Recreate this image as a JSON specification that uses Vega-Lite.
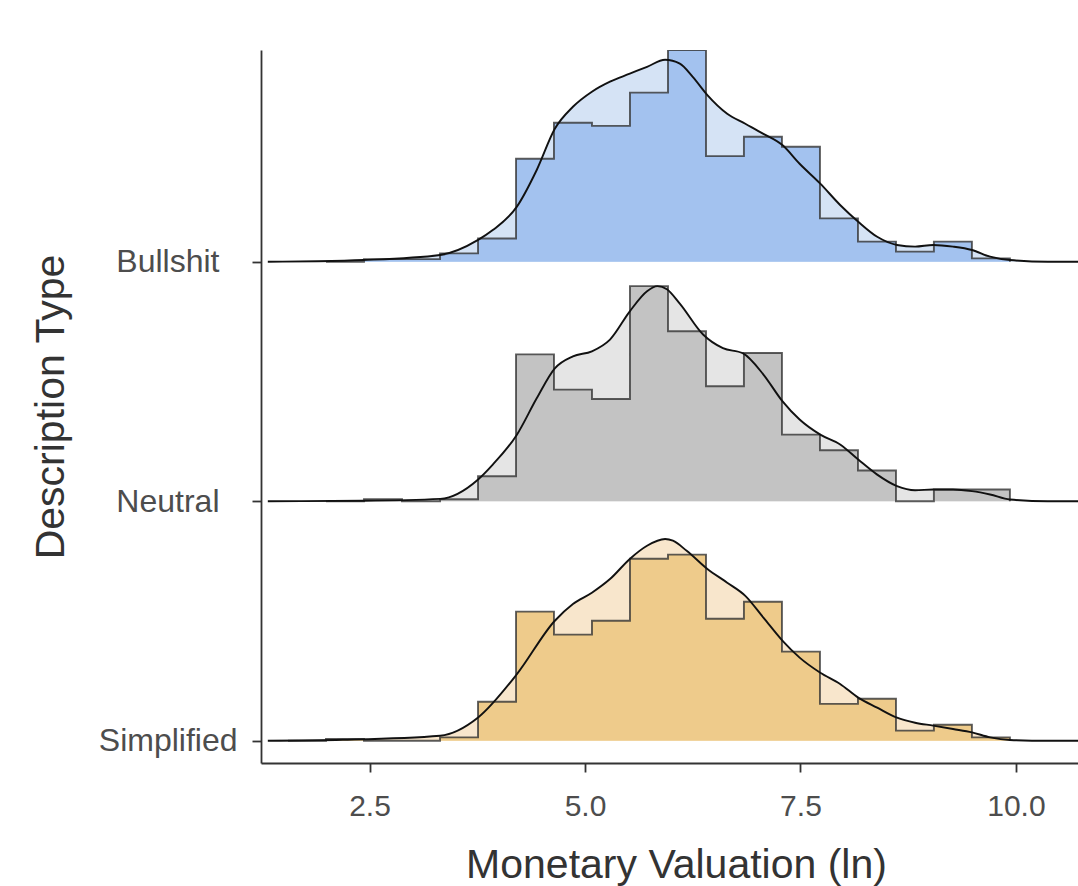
{
  "$schema": "https://vega.github.io/schema/vega-lite/v6.json",
  "width": 817,
  "height": 713,
  "autosize": {"type": "none"},
  "padding": {"left": 261, "top": 50, "right": 0, "bottom": 123},
  "background": "white",
  "config": {"view": {"stroke": null}, "font": "Liberation Sans"},
  "data": {"values": [
    {"kind": "hist", "g": "Bullshit", "x": 1.995, "h": 0},
    {"kind": "hist", "g": "Bullshit", "x": 2.436, "h": 0.011},
    {"kind": "hist", "g": "Bullshit", "x": 2.877, "h": 0.011},
    {"kind": "hist", "g": "Bullshit", "x": 3.318, "h": 0.035},
    {"kind": "hist", "g": "Bullshit", "x": 3.759, "h": 0.097},
    {"kind": "hist", "g": "Bullshit", "x": 4.200, "h": 0.430},
    {"kind": "hist", "g": "Bullshit", "x": 4.640, "h": 0.580},
    {"kind": "hist", "g": "Bullshit", "x": 5.081, "h": 0.567},
    {"kind": "hist", "g": "Bullshit", "x": 5.522, "h": 0.706},
    {"kind": "hist", "g": "Bullshit", "x": 5.963, "h": 0.884},
    {"kind": "hist", "g": "Bullshit", "x": 6.404, "h": 0.441},
    {"kind": "hist", "g": "Bullshit", "x": 6.844, "h": 0.522},
    {"kind": "hist", "g": "Bullshit", "x": 7.285, "h": 0.480},
    {"kind": "hist", "g": "Bullshit", "x": 7.726, "h": 0.181},
    {"kind": "hist", "g": "Bullshit", "x": 8.167, "h": 0.084},
    {"kind": "hist", "g": "Bullshit", "x": 8.608, "h": 0.042},
    {"kind": "hist", "g": "Bullshit", "x": 9.048, "h": 0.084},
    {"kind": "hist", "g": "Bullshit", "x": 9.489, "h": 0.014},
    {"kind": "hist", "g": "Bullshit", "x": 9.930, "h": 0},
    {"kind": "hist", "g": "Neutral", "x": 1.995, "h": 0},
    {"kind": "hist", "g": "Neutral", "x": 2.436, "h": 0.008},
    {"kind": "hist", "g": "Neutral", "x": 2.877, "h": 0},
    {"kind": "hist", "g": "Neutral", "x": 3.318, "h": 0.008},
    {"kind": "hist", "g": "Neutral", "x": 3.759, "h": 0.104},
    {"kind": "hist", "g": "Neutral", "x": 4.200, "h": 0.613},
    {"kind": "hist", "g": "Neutral", "x": 4.640, "h": 0.466},
    {"kind": "hist", "g": "Neutral", "x": 5.081, "h": 0.427},
    {"kind": "hist", "g": "Neutral", "x": 5.522, "h": 0.898},
    {"kind": "hist", "g": "Neutral", "x": 5.963, "h": 0.710},
    {"kind": "hist", "g": "Neutral", "x": 6.404, "h": 0.480},
    {"kind": "hist", "g": "Neutral", "x": 6.844, "h": 0.619},
    {"kind": "hist", "g": "Neutral", "x": 7.285, "h": 0.278},
    {"kind": "hist", "g": "Neutral", "x": 7.726, "h": 0.213},
    {"kind": "hist", "g": "Neutral", "x": 8.167, "h": 0.128},
    {"kind": "hist", "g": "Neutral", "x": 8.608, "h": 0},
    {"kind": "hist", "g": "Neutral", "x": 9.048, "h": 0.049},
    {"kind": "hist", "g": "Neutral", "x": 9.489, "h": 0.049},
    {"kind": "hist", "g": "Neutral", "x": 9.930, "h": 0},
    {"kind": "hist", "g": "Simplified", "x": 1.554, "h": 0},
    {"kind": "hist", "g": "Simplified", "x": 1.995, "h": 0.007},
    {"kind": "hist", "g": "Simplified", "x": 2.436, "h": 0},
    {"kind": "hist", "g": "Simplified", "x": 2.877, "h": 0},
    {"kind": "hist", "g": "Simplified", "x": 3.318, "h": 0.014},
    {"kind": "hist", "g": "Simplified", "x": 3.759, "h": 0.163},
    {"kind": "hist", "g": "Simplified", "x": 4.200, "h": 0.539},
    {"kind": "hist", "g": "Simplified", "x": 4.640, "h": 0.443},
    {"kind": "hist", "g": "Simplified", "x": 5.081, "h": 0.501},
    {"kind": "hist", "g": "Simplified", "x": 5.522, "h": 0.760},
    {"kind": "hist", "g": "Simplified", "x": 5.963, "h": 0.777},
    {"kind": "hist", "g": "Simplified", "x": 6.404, "h": 0.509},
    {"kind": "hist", "g": "Simplified", "x": 6.844, "h": 0.580},
    {"kind": "hist", "g": "Simplified", "x": 7.285, "h": 0.372},
    {"kind": "hist", "g": "Simplified", "x": 7.726, "h": 0.154},
    {"kind": "hist", "g": "Simplified", "x": 8.167, "h": 0.175},
    {"kind": "hist", "g": "Simplified", "x": 8.608, "h": 0.042},
    {"kind": "hist", "g": "Simplified", "x": 9.048, "h": 0.067},
    {"kind": "hist", "g": "Simplified", "x": 9.489, "h": 0.014},
    {"kind": "hist", "g": "Simplified", "x": 9.930, "h": 0},

    {"kind": "dens", "g": "Bullshit", "x": 1.32, "h": 0},
    {"kind": "dens", "g": "Bullshit", "x": 1.9, "h": 0.002},
    {"kind": "dens", "g": "Bullshit", "x": 2.43, "h": 0.007},
    {"kind": "dens", "g": "Bullshit", "x": 3.32, "h": 0.028},
    {"kind": "dens", "g": "Bullshit", "x": 3.76, "h": 0.091},
    {"kind": "dens", "g": "Bullshit", "x": 3.93, "h": 0.132},
    {"kind": "dens", "g": "Bullshit", "x": 4.21, "h": 0.230},
    {"kind": "dens", "g": "Bullshit", "x": 4.44, "h": 0.383},
    {"kind": "dens", "g": "Bullshit", "x": 4.65, "h": 0.555},
    {"kind": "dens", "g": "Bullshit", "x": 4.86, "h": 0.647},
    {"kind": "dens", "g": "Bullshit", "x": 5.08, "h": 0.710},
    {"kind": "dens", "g": "Bullshit", "x": 5.29, "h": 0.752},
    {"kind": "dens", "g": "Bullshit", "x": 5.52, "h": 0.785},
    {"kind": "dens", "g": "Bullshit", "x": 5.72, "h": 0.814},
    {"kind": "dens", "g": "Bullshit", "x": 5.93, "h": 0.843},
    {"kind": "dens", "g": "Bullshit", "x": 6.10, "h": 0.827},
    {"kind": "dens", "g": "Bullshit", "x": 6.25, "h": 0.772},
    {"kind": "dens", "g": "Bullshit", "x": 6.42, "h": 0.696},
    {"kind": "dens", "g": "Bullshit", "x": 6.65, "h": 0.618},
    {"kind": "dens", "g": "Bullshit", "x": 6.86, "h": 0.576},
    {"kind": "dens", "g": "Bullshit", "x": 7.07, "h": 0.534},
    {"kind": "dens", "g": "Bullshit", "x": 7.29, "h": 0.487},
    {"kind": "dens", "g": "Bullshit", "x": 7.49, "h": 0.409},
    {"kind": "dens", "g": "Bullshit", "x": 7.73, "h": 0.326},
    {"kind": "dens", "g": "Bullshit", "x": 7.96, "h": 0.237},
    {"kind": "dens", "g": "Bullshit", "x": 8.17, "h": 0.167},
    {"kind": "dens", "g": "Bullshit", "x": 8.39, "h": 0.104},
    {"kind": "dens", "g": "Bullshit", "x": 8.62, "h": 0.070},
    {"kind": "dens", "g": "Bullshit", "x": 8.83, "h": 0.063},
    {"kind": "dens", "g": "Bullshit", "x": 9.04, "h": 0.070},
    {"kind": "dens", "g": "Bullshit", "x": 9.27, "h": 0.063},
    {"kind": "dens", "g": "Bullshit", "x": 9.49, "h": 0.049},
    {"kind": "dens", "g": "Bullshit", "x": 9.70, "h": 0.021},
    {"kind": "dens", "g": "Bullshit", "x": 9.93, "h": 0.007},
    {"kind": "dens", "g": "Bullshit", "x": 10.37, "h": 0},
    {"kind": "dens", "g": "Bullshit", "x": 10.72, "h": 0},

    {"kind": "dens", "g": "Neutral", "x": 1.32, "h": 0},
    {"kind": "dens", "g": "Neutral", "x": 2.43, "h": 0.002},
    {"kind": "dens", "g": "Neutral", "x": 3.32, "h": 0.010},
    {"kind": "dens", "g": "Neutral", "x": 3.76, "h": 0.091},
    {"kind": "dens", "g": "Neutral", "x": 3.93, "h": 0.153},
    {"kind": "dens", "g": "Neutral", "x": 4.21, "h": 0.278},
    {"kind": "dens", "g": "Neutral", "x": 4.44, "h": 0.430},
    {"kind": "dens", "g": "Neutral", "x": 4.65, "h": 0.555},
    {"kind": "dens", "g": "Neutral", "x": 4.86, "h": 0.605},
    {"kind": "dens", "g": "Neutral", "x": 5.08, "h": 0.626},
    {"kind": "dens", "g": "Neutral", "x": 5.29, "h": 0.675},
    {"kind": "dens", "g": "Neutral", "x": 5.52, "h": 0.793},
    {"kind": "dens", "g": "Neutral", "x": 5.72, "h": 0.877},
    {"kind": "dens", "g": "Neutral", "x": 5.84, "h": 0.898},
    {"kind": "dens", "g": "Neutral", "x": 5.95, "h": 0.885},
    {"kind": "dens", "g": "Neutral", "x": 6.10, "h": 0.825},
    {"kind": "dens", "g": "Neutral", "x": 6.37, "h": 0.696},
    {"kind": "dens", "g": "Neutral", "x": 6.60, "h": 0.639},
    {"kind": "dens", "g": "Neutral", "x": 6.83, "h": 0.618},
    {"kind": "dens", "g": "Neutral", "x": 7.07, "h": 0.529},
    {"kind": "dens", "g": "Neutral", "x": 7.29, "h": 0.418},
    {"kind": "dens", "g": "Neutral", "x": 7.49, "h": 0.341},
    {"kind": "dens", "g": "Neutral", "x": 7.73, "h": 0.278},
    {"kind": "dens", "g": "Neutral", "x": 7.96, "h": 0.237},
    {"kind": "dens", "g": "Neutral", "x": 8.17, "h": 0.174},
    {"kind": "dens", "g": "Neutral", "x": 8.39, "h": 0.111},
    {"kind": "dens", "g": "Neutral", "x": 8.62, "h": 0.063},
    {"kind": "dens", "g": "Neutral", "x": 8.83, "h": 0.046},
    {"kind": "dens", "g": "Neutral", "x": 9.04, "h": 0.049},
    {"kind": "dens", "g": "Neutral", "x": 9.27, "h": 0.049},
    {"kind": "dens", "g": "Neutral", "x": 9.49, "h": 0.042},
    {"kind": "dens", "g": "Neutral", "x": 9.70, "h": 0.028},
    {"kind": "dens", "g": "Neutral", "x": 9.93, "h": 0.007},
    {"kind": "dens", "g": "Neutral", "x": 10.37, "h": 0},
    {"kind": "dens", "g": "Neutral", "x": 10.72, "h": 0},

    {"kind": "dens", "g": "Simplified", "x": 1.32, "h": 0},
    {"kind": "dens", "g": "Simplified", "x": 2.19, "h": 0.004},
    {"kind": "dens", "g": "Simplified", "x": 3.32, "h": 0.021},
    {"kind": "dens", "g": "Simplified", "x": 3.76, "h": 0.097},
    {"kind": "dens", "g": "Simplified", "x": 4.21, "h": 0.278},
    {"kind": "dens", "g": "Simplified", "x": 4.65, "h": 0.501},
    {"kind": "dens", "g": "Simplified", "x": 4.86, "h": 0.571},
    {"kind": "dens", "g": "Simplified", "x": 5.08, "h": 0.618},
    {"kind": "dens", "g": "Simplified", "x": 5.29, "h": 0.675},
    {"kind": "dens", "g": "Simplified", "x": 5.52, "h": 0.759},
    {"kind": "dens", "g": "Simplified", "x": 5.72, "h": 0.814},
    {"kind": "dens", "g": "Simplified", "x": 5.93, "h": 0.842},
    {"kind": "dens", "g": "Simplified", "x": 6.02, "h": 0.835},
    {"kind": "dens", "g": "Simplified", "x": 6.18, "h": 0.793},
    {"kind": "dens", "g": "Simplified", "x": 6.42, "h": 0.717},
    {"kind": "dens", "g": "Simplified", "x": 6.65, "h": 0.660},
    {"kind": "dens", "g": "Simplified", "x": 6.86, "h": 0.605},
    {"kind": "dens", "g": "Simplified", "x": 7.07, "h": 0.514},
    {"kind": "dens", "g": "Simplified", "x": 7.29, "h": 0.418},
    {"kind": "dens", "g": "Simplified", "x": 7.49, "h": 0.347},
    {"kind": "dens", "g": "Simplified", "x": 7.73, "h": 0.284},
    {"kind": "dens", "g": "Simplified", "x": 7.96, "h": 0.237},
    {"kind": "dens", "g": "Simplified", "x": 8.17, "h": 0.180},
    {"kind": "dens", "g": "Simplified", "x": 8.39, "h": 0.138},
    {"kind": "dens", "g": "Simplified", "x": 8.62, "h": 0.096},
    {"kind": "dens", "g": "Simplified", "x": 8.83, "h": 0.075},
    {"kind": "dens", "g": "Simplified", "x": 9.04, "h": 0.063},
    {"kind": "dens", "g": "Simplified", "x": 9.27, "h": 0.049},
    {"kind": "dens", "g": "Simplified", "x": 9.49, "h": 0.035},
    {"kind": "dens", "g": "Simplified", "x": 9.70, "h": 0.014},
    {"kind": "dens", "g": "Simplified", "x": 9.93, "h": 0.003},
    {"kind": "dens", "g": "Simplified", "x": 10.37, "h": 0},
    {"kind": "dens", "g": "Simplified", "x": 10.72, "h": 0}
  ]},
  "transform": [
    {"calculate": "indexof(['Simplified','Neutral','Bullshit'], datum.g)", "as": "base"},
    {"calculate": "datum.base + datum.h", "as": "top"}
  ],
  "encoding": {
    "x": {
      "field": "x", "type": "quantitative",
      "scale": {"domain": [1.241, 10.72], "nice": false, "zero": false},
      "axis": {
        "values": [2.5, 5.0, 7.5, 10.0], "format": ".1f", "grid": false,
        "title": "Monetary Valuation (ln)",
        "domainColor": "#333333", "domainWidth": 1.8,
        "tickColor": "#333333", "tickWidth": 1.8, "tickSize": 9,
        "labelFont": "Liberation Sans", "labelFontSize": 30, "labelColor": "#4d4d4d",
        "labelBaseline": "alphabetic", "labelPadding": 43, "labelFlush": false,
        "titleFont": "Liberation Sans", "titleFontSize": 41, "titleFontWeight": "normal",
        "titleColor": "#333333", "titleBaseline": "alphabetic", "titleY": 114, "titleX": 415
      }
    },
    "y": {
      "field": "top", "type": "quantitative",
      "scale": {"domain": [-0.093, 2.884], "nice": false, "zero": false},
      "axis": {
        "values": [0, 1, 2], "grid": false,
        "labelExpr": "datum.value == 2 ? 'Bullshit' : datum.value == 1 ? 'Neutral' : 'Simplified'",
        "title": "Description Type",
        "domainColor": "#333333", "domainWidth": 1.8,
        "tickColor": "#333333", "tickWidth": 1.8, "tickSize": 9,
        "labelFont": "Liberation Sans", "labelFontSize": 32, "labelColor": "#4d4d4d",
        "labelPadding": {"condition": {"test": "datum.value < 0.5", "value": 15}, "value": 33},
        "labelBaseline": "middle",
        "titleFont": "Liberation Sans", "titleFontSize": 41, "titleFontWeight": "normal",
        "titleColor": "#333333", "titleBaseline": "alphabetic", "titleX": -198
      }
    }
  },
  "layer": [
    {
      "transform": [{"filter": "datum.kind === 'dens'"}],
      "mark": {"type": "area", "interpolate": "monotone", "clip": true, "opacity": 1},
      "encoding": {
        "y2": {"field": "base"},
        "color": {"field": "g", "type": "nominal", "legend": null,
          "scale": {"domain": ["Bullshit", "Neutral", "Simplified"], "range": ["#d5e3f5", "#e5e5e5", "#f8e6cc"]}}
      }
    },
    {
      "transform": [{"filter": "datum.kind === 'hist'"}],
      "mark": {"type": "area", "interpolate": "step-after", "clip": true, "opacity": 1},
      "encoding": {
        "y2": {"field": "base"},
        "color": {"field": "g", "type": "nominal", "legend": null,
          "scale": {"domain": ["Bullshit", "Neutral", "Simplified"], "range": ["#a3c2ef", "#c3c3c3", "#eecb8b"]}}
      }
    },
    {
      "transform": [{"filter": "datum.kind === 'hist'"}],
      "mark": {"type": "line", "interpolate": "step-after", "clip": true, "color": "#333333", "strokeWidth": 1.9, "opacity": 0.8},
      "encoding": {"detail": {"field": "g", "type": "nominal"}}
    },
    {
      "transform": [{"filter": "datum.kind === 'dens'"}],
      "mark": {"type": "line", "interpolate": "monotone", "clip": true, "color": "#111111", "strokeWidth": 1.9},
      "encoding": {"detail": {"field": "g", "type": "nominal"}}
    }
  ],
  "resolve": {"scale": {"color": "independent"}}
}
